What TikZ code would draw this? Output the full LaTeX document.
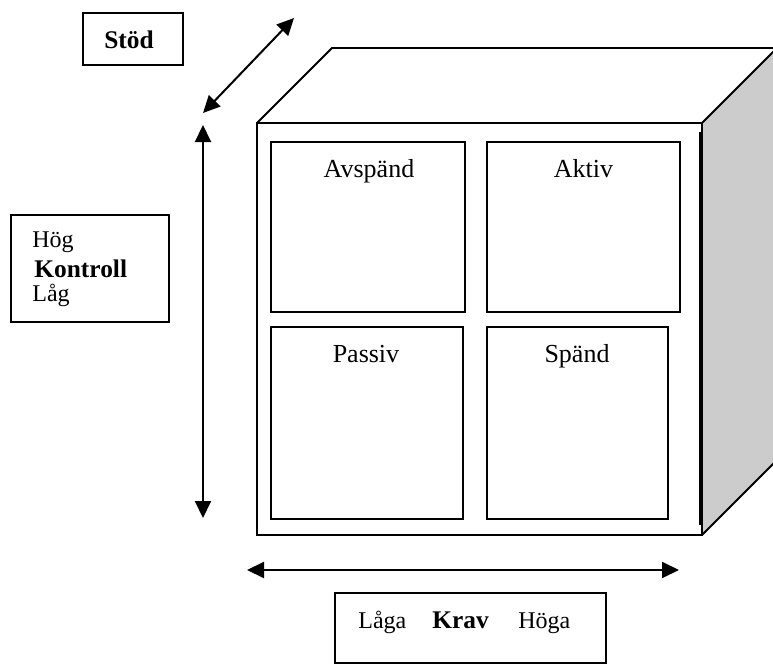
\documentclass[tikz,border=0pt]{standalone}
\usepackage{fontspec}
\setmainfont{Liberation Serif}
\usetikzlibrary{arrows.meta}
\begin{document}
\begin{tikzpicture}[x=0.5pt,y=-0.5pt,
  box/.style={draw, line width=0.9pt, inner sep=0pt, outer sep=0pt, anchor=north west},
  lbl/.style={anchor=base, inner sep=0pt, font=\fontsize{12}{14}\selectfont},
  cell/.style={anchor=base, inner sep=0pt, font=\fontsize{13}{15}\selectfont},
  blbl/.style={anchor=base, inner sep=0pt, font=\fontsize{12.7}{15}\selectfont\bfseries},
  dbl/.style={{Triangle[length=8.5pt,width=8pt]}-{Triangle[length=8.5pt,width=8pt]}, line width=1pt}]
\useasboundingbox (0,0) rectangle (773,664);
% cube
\fill[gray!40] (702,123) -- (777,48) -- (777,460) -- (702,535) -- cycle;
\draw[line width=0.9pt] (702,123) -- (777,48);
\draw[line width=0.9pt] (702,535) -- (777,460);
\draw[line width=0.9pt] (257,123) -- (332,48) -- (777,48);
\node[box, minimum width=222.5pt, minimum height=206pt] (front) at (257,123) {};
\draw[line width=1.6pt] ([xshift=-0.8pt,yshift=-4.5pt]front.north east) -- ([xshift=-0.8pt,yshift=5pt]front.south east);
% cells
\node[box, minimum width=97pt, minimum height=85pt] (avb) at (271,142) {};
\node[box, minimum width=96.5pt, minimum height=85pt] (akb) at (487,142) {};
\node[box, minimum width=96pt, minimum height=96pt] (pab) at (271,327) {};
\node[box, minimum width=90.5pt, minimum height=96pt] (spb) at (487,327) {};
\node[cell] (avt) at (369,177) {Avspänd};
\node[cell] (akt) at (583.5,177) {Aktiv};
\node[cell] (pat) at (366,362) {Passiv};
\node[cell] (spt) at (577,362) {Spänd};
% Stöd
\node[box, minimum width=50pt, minimum height=26pt] (stb) at (83,13) {};
\node[blbl] (stt) at (129,48) {Stöd};
% Kontroll
\node[box, minimum width=79pt, minimum height=53.5pt] (kob) at (11,215) {};
\node[lbl, anchor=base west] (hog) at (32,248) {Hög};
\node[blbl, anchor=base west] (kot) at (34,277) {Kontroll};
\node[lbl, anchor=base west] (lag) at (32,301) {Låg};
% Krav
\node[box, minimum width=135.5pt, minimum height=35pt] (krb) at (335,593) {};
\node[lbl, anchor=base west] (laga) at (358,628) {Låga};
\node[blbl, anchor=base west] (krt) at (432,628) {Krav};
\node[lbl, anchor=base west] (hoga) at (518,628) {Höga};
% arrows
\coordinate (s1) at (203,113); \coordinate (s2) at (294,18);
\draw[dbl] (s1) -- (s2);
\coordinate (k1) at (203,125); \coordinate (k2) at (203,518);
\draw[dbl] (k1) -- (k2);
\coordinate (d1) at (247,570); \coordinate (d2) at (679,570);
\draw[dbl] (d1) -- (d2);
\end{tikzpicture}
\end{document}
